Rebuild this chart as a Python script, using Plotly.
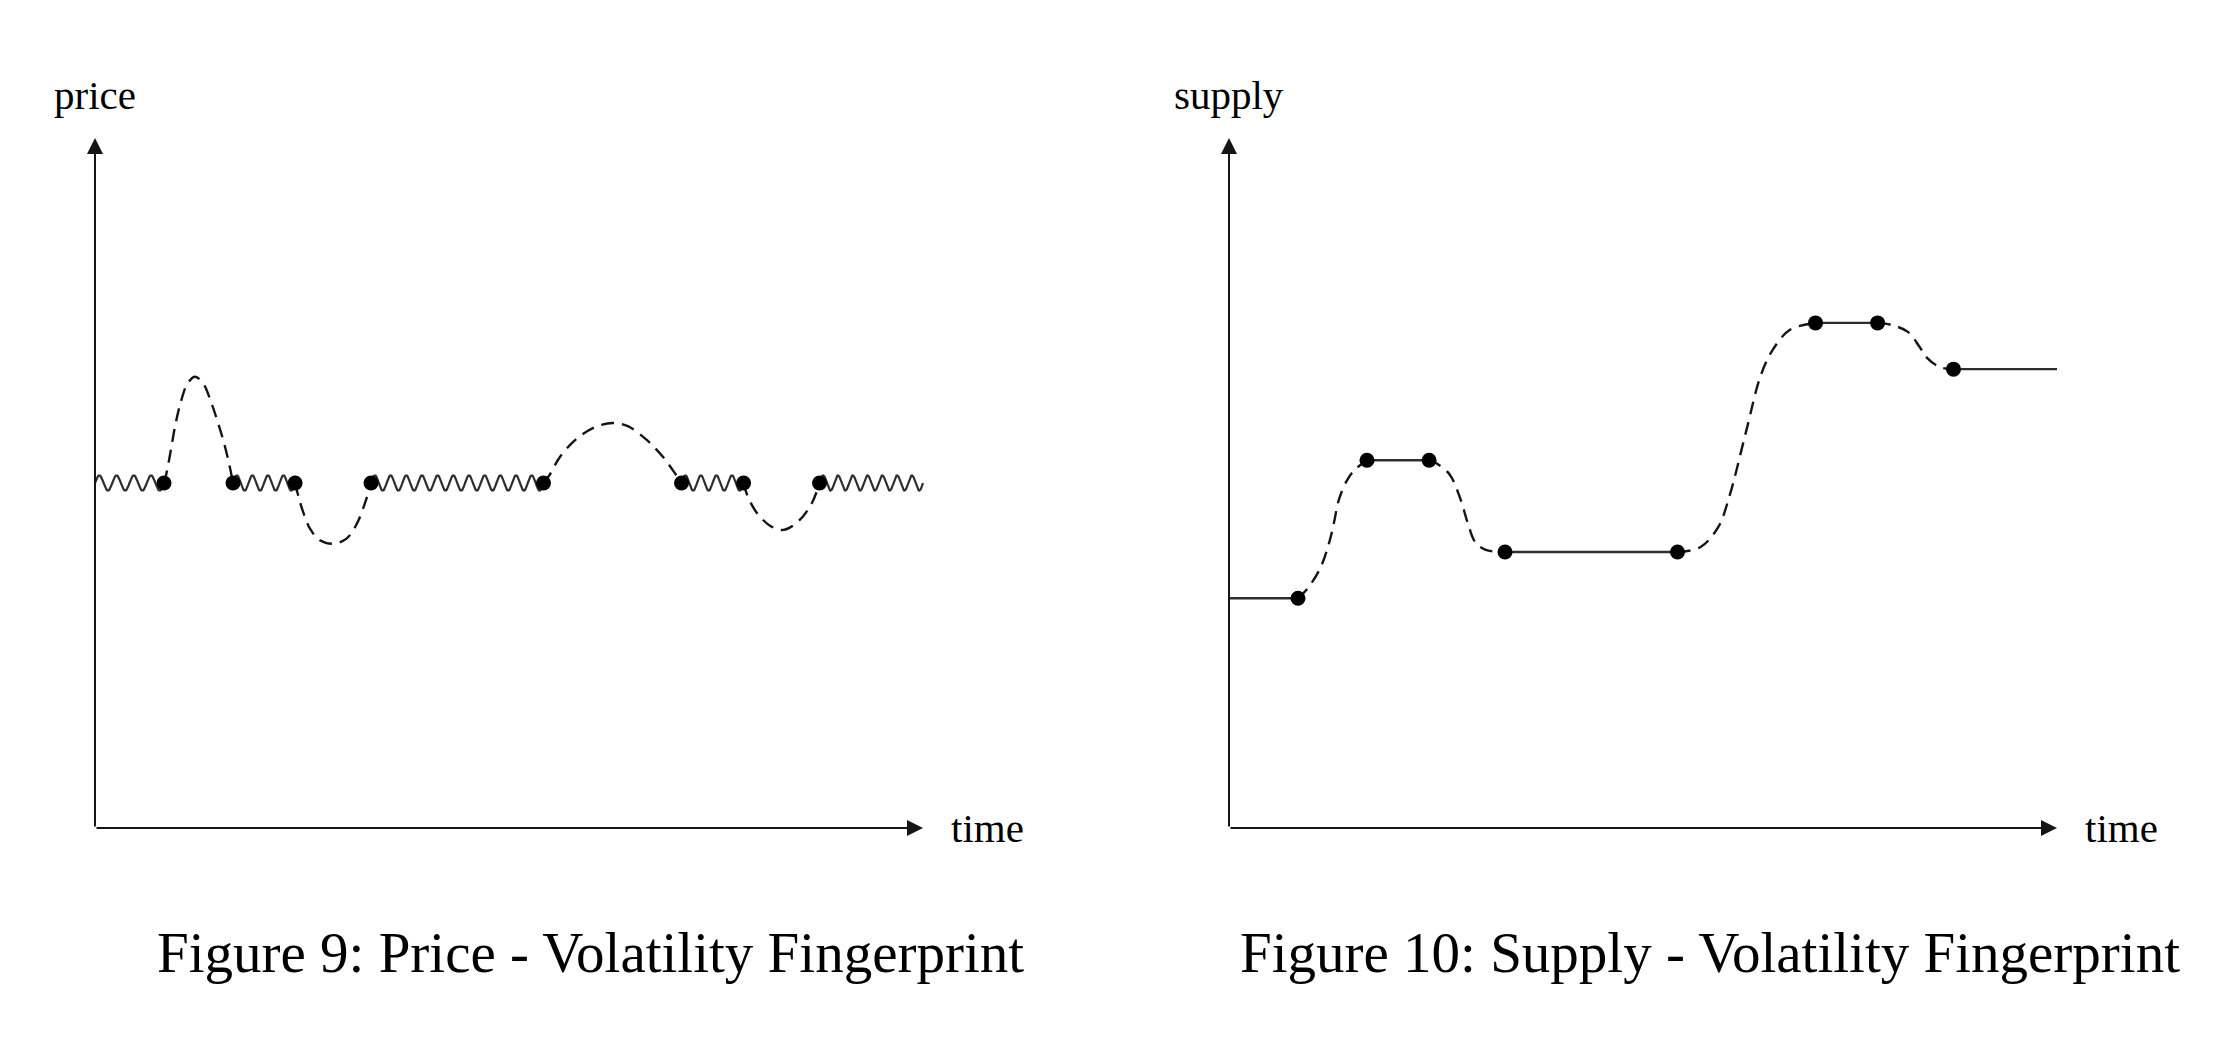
import numpy as np
import plotly.graph_objects as go

# ---------------- data (axis units) ----------------
# Figure 9: price
price_dot_t = [1.0, 2.0, 2.9, 4.0, 6.5, 8.5, 9.4, 10.5]
price_dot_p = [5.0, 5.0, 5.0, 5.0, 5.0, 5.0, 5.0, 5.0]
price_calm_start = [0.0, 2.0, 4.0, 8.5, 10.5]
price_calm_end = [1.0, 2.9, 6.5, 9.4, 12.0]
price_calm_level = 5.0

bump1_t = [1.0, 1.04, 1.1, 1.16, 1.24, 1.34, 1.45, 1.57, 1.68, 1.78, 1.87, 1.95, 2.0]
bump1_p = [5.0, 5.16, 5.48, 5.82, 6.16, 6.44, 6.54, 6.44, 6.18, 5.88, 5.58, 5.25, 5.0]
bump2_t = [2.9, 2.95, 3.02, 3.12, 3.26, 3.45, 3.64, 3.79, 3.91, 4.0]
bump2_p = [5.0, 4.8, 4.57, 4.33, 4.17, 4.12, 4.19, 4.4, 4.7, 5.0]
bump3_t = [6.5, 6.59, 6.74, 6.99, 7.27, 7.51, 7.73, 8.0, 8.23, 8.42, 8.5]
bump3_p = [5.0, 5.12, 5.38, 5.65, 5.82, 5.87, 5.82, 5.62, 5.38, 5.12, 5.0]
bump4_t = [9.4, 9.45, 9.59, 9.8, 9.98, 10.2, 10.39, 10.5]
bump4_p = [5.0, 4.83, 4.57, 4.37, 4.32, 4.45, 4.71, 5.0]

# Figure 10: supply
supply_dot_t = [1.0, 2.0, 2.9, 4.0, 6.5, 8.5, 9.4, 10.5]
supply_dot_s = [3.33, 5.33, 5.33, 4.0, 4.0, 7.32, 7.32, 6.65]
supply_flat_start = [0.0, 2.0, 4.0, 8.5, 10.5]
supply_flat_end = [1.0, 2.9, 6.5, 9.4, 12.0]
supply_flat_level = [3.33, 5.33, 4.0, 7.32, 6.65]

step1_t = [1.0, 1.13, 1.32, 1.45, 1.52, 1.59, 1.7, 1.81, 2.0]
step1_s = [3.33, 3.46, 3.76, 4.13, 4.42, 4.75, 5.02, 5.18, 5.33]
step2_t = [2.9, 3.0, 3.2, 3.36, 3.46, 3.57, 3.72, 4.0]
step2_s = [5.33, 5.29, 5.12, 4.75, 4.42, 4.14, 4.03, 4.0]
step3_t = [6.5, 6.83, 7.09, 7.25, 7.5, 7.7, 7.88, 8.13, 8.5]
step3_s = [4.0, 4.07, 4.36, 4.8, 5.77, 6.54, 6.93, 7.22, 7.32]
step4_t = [9.4, 9.6, 9.84, 10.01, 10.12, 10.3, 10.5]
step4_s = [7.32, 7.29, 7.19, 6.97, 6.81, 6.68, 6.65]

axis_x_max = 12.0
axis_y_max = 10.0

captions = ["Figure 9: Price - Volatility Fingerprint",
            "Figure 10: Supply - Volatility Fingerprint"]
y_labels = ["price", "supply"]
x_label = "time"

# ---------------- layout geometry ----------------
W, H = 2227, 1045
OFF = 8                          # page body margin
PX = 69.0                        # pixels per axis unit
origins = [(95 - OFF, 828 - OFF), (1229 - OFF, 828 - OFF)]
XR = [-0.5, 12.5]
YR = [-0.5, 11.3]

INK = "#151515"
GREY = "#2e2e2e"
SERIF = "Liberation Serif, Times New Roman, serif"

# snake decoration (line style only)
SNAKE_LEN = 0.225
SNAKE_AMP = 0.11


def snake(a, b, level):
    n = max(1, int(round((b - a) / SNAKE_LEN)))
    s = np.linspace(0, 1, n * 24 + 1)
    xs = a + (b - a) * s
    ys = level + SNAKE_AMP * np.sin(2 * np.pi * n * s)
    return xs, ys


fig = go.Figure()

# ---- left panel ----
for a, b in zip(price_calm_start, price_calm_end):
    xs, ys = snake(a, b, price_calm_level)
    fig.add_trace(go.Scatter(x=xs, y=ys, mode="lines",
                             line=dict(color=GREY, width=2.2),
                             xaxis="x", yaxis="y", hoverinfo="skip"))
for bt, bp in [(bump1_t, bump1_p), (bump2_t, bump2_p),
               (bump3_t, bump3_p), (bump4_t, bump4_p)]:
    fig.add_trace(go.Scatter(x=bt, y=bp, mode="lines",
                             line=dict(color=INK, width=2.4, dash="13px,8px",
                                       shape="spline", smoothing=1.0),
                             xaxis="x", yaxis="y", hoverinfo="skip"))
fig.add_trace(go.Scatter(x=price_dot_t, y=price_dot_p, mode="markers",
                         marker=dict(color="black", size=15),
                         xaxis="x", yaxis="y", hoverinfo="skip"))

# ---- right panel ----
for a, b, lv in zip(supply_flat_start, supply_flat_end, supply_flat_level):
    fig.add_trace(go.Scatter(x=[a, b], y=[lv, lv], mode="lines",
                             line=dict(color=GREY, width=2.4),
                             xaxis="x2", yaxis="y2", hoverinfo="skip"))
for st, ss in [(step1_t, step1_s), (step2_t, step2_s),
               (step3_t, step3_s), (step4_t, step4_s)]:
    fig.add_trace(go.Scatter(x=st, y=ss, mode="lines",
                             line=dict(color=INK, width=2.4, dash="13px,8px",
                                       shape="spline", smoothing=1.0),
                             xaxis="x2", yaxis="y2", hoverinfo="skip"))
fig.add_trace(go.Scatter(x=supply_dot_t, y=supply_dot_s, mode="markers",
                         marker=dict(color="black", size=15),
                         xaxis="x2", yaxis="y2", hoverinfo="skip"))

# ---- axes (hidden) positioned so 1 unit = PX pixels ----
layout_axes = {}
for i, (ox, oy) in enumerate(origins):
    sfx = "" if i == 0 else "2"
    x0 = (ox + XR[0] * PX) / W
    x1 = (ox + XR[1] * PX) / W
    y0 = (H - (oy - YR[0] * PX)) / H
    y1 = (H - (oy - YR[1] * PX)) / H
    layout_axes["xaxis" + sfx] = dict(domain=[x0, x1], range=XR, visible=False,
                                      anchor="y" + sfx, fixedrange=True)
    layout_axes["yaxis" + sfx] = dict(domain=[y0, y1], range=YR, visible=False,
                                      anchor="x" + sfx, fixedrange=True)

annotations = []
for i in range(2):
    xr = "x" if i == 0 else "x2"
    yr = "y" if i == 0 else "y2"
    # axis arrows
    annotations.append(dict(x=axis_x_max, y=0, ax=0, ay=0, xref=xr, yref=yr,
                            axref=xr, ayref=yr, text="", showarrow=True,
                            arrowhead=2, arrowsize=1.6, arrowwidth=2,
                            arrowcolor=INK, standoff=0, startstandoff=0))
    annotations.append(dict(x=0, y=axis_y_max, ax=0, ay=0, xref=xr, yref=yr,
                            axref=xr, ayref=yr, text="", showarrow=True,
                            arrowhead=2, arrowsize=1.6, arrowwidth=2,
                            arrowcolor=INK, standoff=0, startstandoff=0))
    # axis labels
    annotations.append(dict(x=0, y=axis_y_max + 0.62, xref=xr, yref=yr,
                            text=y_labels[i], showarrow=False,
                            xanchor="center", yanchor="middle",
                            font=dict(family=SERIF, size=41, color="black")))
    annotations.append(dict(x=axis_x_max + 0.38, y=0, xref=xr, yref=yr,
                            text=x_label, showarrow=False,
                            xanchor="left", yanchor="middle",
                            font=dict(family=SERIF, size=41, color="black")))

# captions
for cx, txt in zip([(590.5 - OFF) / W, (1710 - OFF) / W], captions):
    annotations.append(dict(x=cx, y=(H - (952 - OFF)) / H, xref="paper", yref="paper",
                            text=txt, showarrow=False, xanchor="center",
                            yanchor="middle",
                            font=dict(family=SERIF, size=57, color="black")))

fig.update_layout(
    width=W, height=H,
    margin=dict(l=0, r=0, t=0, b=0),
    paper_bgcolor="white", plot_bgcolor="white",
    showlegend=False,
    annotations=annotations,
    **layout_axes,
)

fig.write_html("out.html", config={"displayModeBar": False})
